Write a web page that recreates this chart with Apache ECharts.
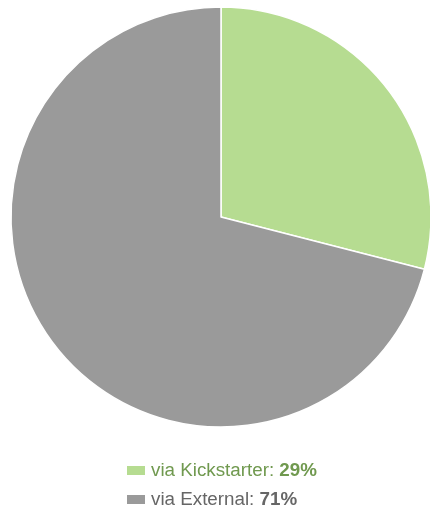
<!DOCTYPE html>
<html>
<head>
<meta charset="utf-8">
<script src="https://cdn.jsdelivr.net/npm/echarts@6/dist/echarts.min.js"></script>
<style>
  html, body { margin: 0; padding: 0; background: #ffffff; }
  #chart { width: 430px; height: 508px; }
</style>
</head>
<body>
<div id="chart"></div>
<script>
// Share of backers by source
const categories = ['via Kickstarter', 'via External'];
const shares = [29, 71];
const sliceColors = ['#b6dc91', '#9a9a9a'];
const labelColors = ['#70994f', '#666666'];

const chart = echarts.init(document.getElementById('chart'), null, { renderer: 'canvas' });

const legendFont = 'Liberation Sans, Arial, Helvetica, sans-serif';

chart.setOption({
  animation: false,
  legend: {
    orient: 'vertical',
    left: 125,
    top: 461,
    height: 60,
    padding: 0,
    itemWidth: 20,
    itemHeight: 11,
    itemGap: 10,
    icon: 'rect',
    selectedMode: false,
    data: categories.map((name, i) => ({
      name: name,
      textStyle: {
        color: labelColors[i],
        rich: {
          n: { fontFamily: legendFont, fontSize: 18.8, lineHeight: 18, color: labelColors[i] },
          b: { fontFamily: legendFont, fontSize: 18.8, lineHeight: 18, fontWeight: 'bold', color: labelColors[i] }
        }
      }
    })),
    formatter: function (name) {
      const i = categories.indexOf(name);
      return '{n|' + name + ': }{b|' + shares[i] + '%}';
    }
  },
  series: [{
    type: 'pie',
    center: [221, 217],
    radius: 210,
    startAngle: 90,
    clockwise: true,
    label: { show: false },
    labelLine: { show: false },
    emphasis: { disabled: true },
    itemStyle: { borderColor: '#ffffff', borderWidth: 1.5 },
    data: categories.map((name, i) => ({
      name: name,
      value: shares[i],
      itemStyle: { color: sliceColors[i] }
    }))
  }]
});
</script>
</body>
</html>
